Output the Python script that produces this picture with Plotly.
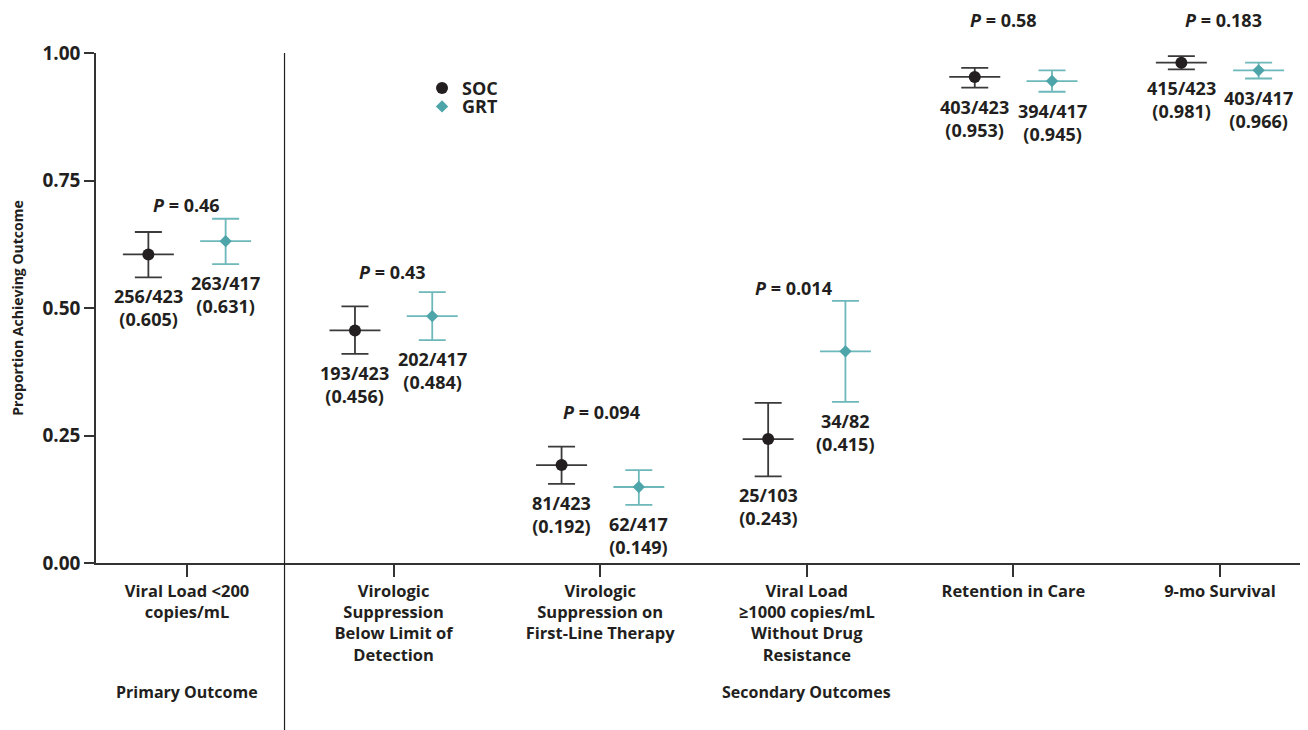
import plotly.graph_objects as go

# ---------------- data ----------------
categories = [
    "Viral Load <200<br>copies/mL",
    "Virologic<br>Suppression<br>Below Limit of<br>Detection",
    "Virologic<br>Suppression on<br>First-Line Therapy",
    "Viral Load<br>≥1000 copies/mL<br>Without Drug<br>Resistance",
    "Retention in Care",
    "9-mo Survival",
]
soc_n = [256, 193, 81, 25, 403, 415]
soc_d = [423, 423, 423, 103, 423, 423]
soc_p = [0.605, 0.456, 0.192, 0.243, 0.953, 0.981]
soc_lo = [0.560, 0.410, 0.155, 0.170, 0.932, 0.968]
soc_hi = [0.649, 0.503, 0.228, 0.314, 0.971, 0.994]

grt_n = [263, 202, 62, 34, 394, 403]
grt_d = [417, 417, 417, 82, 417, 417]
grt_p = [0.631, 0.484, 0.149, 0.415, 0.945, 0.966]
grt_lo = [0.586, 0.437, 0.114, 0.316, 0.924, 0.950]
grt_hi = [0.675, 0.531, 0.182, 0.514, 0.966, 0.981]

p_values = ["0.46", "0.43", "0.094", "0.014", "0.58", "0.183"]

y_ticks = [0, 0.25, 0.5, 0.75, 1.0]
y_title = "Proportion Achieving Outcome"
group_labels = ["Primary Outcome", "Secondary Outcomes"]

# ---------------- style ----------------
FONT = "Open Sans"
TXT = "#231f20"
SOC_COL = "#231f20"
SOC_BAR = "#3a3a3a"
GRT_COL = "#4ea5a9"
GRT_BAR = "#6db8bb"
OFF = 0.187          # horizontal offset of each group from category centre
CROSS = 0.1234       # half length of horizontal crossbar (category units)
p_yshift = [14, 20, 35, 13, 48, 36]
p_xshift = [-1, -1, 1, -13, -10, 4]

idx = list(range(len(categories)))
soc_x = [i - OFF for i in idx]
grt_x = [i + OFF for i in idx]

fig = go.Figure()


def add_series(name, legend, xs, p, lo, hi, col, barcol, symbol, size):
    fig.add_trace(go.Scatter(
        x=xs, y=p, name=name, mode="markers", legend=legend,
        marker=dict(symbol=symbol, size=size, color=col, line=dict(width=0)),
        error_y=dict(type="data", symmetric=False,
                     array=[h - v for h, v in zip(hi, p)],
                     arrayminus=[v - l for v, l in zip(p, lo)],
                     color=barcol, thickness=1.8, width=13.5),
        error_x=dict(type="constant", value=CROSS, color=barcol,
                     thickness=1.8, width=0),
        cliponaxis=False,
    ))


add_series("SOC", "legend", soc_x, soc_p, soc_lo, soc_hi, SOC_COL, SOC_BAR, "circle", 12)
add_series("GRT", "legend2", grt_x, grt_p, grt_lo, grt_hi, GRT_COL, GRT_BAR, "diamond", 9.5)

ann = []
lab_font = dict(family=FONT, size=18, color=TXT, weight="bold")
for i in idx:
    ann.append(dict(x=soc_x[i], y=soc_lo[i], xref="x", yref="y",
                    text=f"{soc_n[i]}/{soc_d[i]}<br>({soc_p[i]:.3f})",
                    showarrow=False, yanchor="top", yshift=-5, font=lab_font))
    ann.append(dict(x=grt_x[i], y=grt_lo[i], xref="x", yref="y",
                    text=f"{grt_n[i]}/{grt_d[i]}<br>({grt_p[i]:.3f})",
                    showarrow=False, yanchor="top", yshift=-5, font=lab_font))
    ann.append(dict(x=i, y=max(soc_hi[i], grt_hi[i]), xref="x", yref="y",
                    text=f"<i>P</i> = {p_values[i]}", showarrow=False,
                    yanchor="middle", yshift=p_yshift[i], xshift=p_xshift[i],
                    borderpad=0, font=lab_font))

grp_font = dict(family=FONT, size=16, color=TXT, weight="bold")
ann.append(dict(x=0, y=-0.253, xref="x", yref="paper", text=group_labels[0],
                showarrow=False, yanchor="middle", font=grp_font))
ann.append(dict(x=(1 + 5) / 2, y=-0.253, xref="x", yref="paper",
                text=group_labels[1], showarrow=False, yanchor="middle",
                font=grp_font))

leg_common = dict(xanchor="left", yanchor="top",
                  font=dict(family=FONT, size=18, color=TXT, weight="bold"),
                  itemwidth=30, bgcolor="rgba(0,0,0,0)")

# the page body adds an 8px offset, so the figure is 8px smaller than the window
fig.update_layout(
    width=1300, height=722,
    margin=dict(l=88, r=0, t=45, b=167, autoexpand=False),
    paper_bgcolor="white", plot_bgcolor="white",
    font=dict(family=FONT, color=TXT),
    annotations=ann,
    shapes=[dict(type="line", xref="x", yref="paper", x0=0.472, x1=0.472,
                 y0=-0.33, y1=1.0, line=dict(color=TXT, width=1.2))],
    legend=dict(x=0.269, y=0.967, **leg_common),
    legend2=dict(x=0.269, y=0.931, **leg_common),
    showlegend=True,
)
fig.update_xaxes(
    range=[-0.4405, 5.426], tickvals=idx, ticktext=categories,
    showline=True, linecolor="#333333", linewidth=1.5,
    ticks="outside", ticklen=12, tickwidth=1.5, tickcolor="#333333",
    tickfont=dict(family=FONT, size=16.5, color=TXT, weight="bold"),
    showgrid=False, zeroline=False, automargin=False,
)
fig.update_yaxes(
    range=[0, 1.0], tickvals=y_ticks, tickformat=".2f",
    showline=True, linecolor="#333333", linewidth=1.5,
    ticks="outside", ticklen=10, tickwidth=1.5, tickcolor="#333333",
    tickfont=dict(family=FONT, size=19, color=TXT, weight="bold"),
    showgrid=False, zeroline=False, automargin=False,
    title=dict(text=y_title, standoff=25,
               font=dict(family=FONT, size=14, color=TXT, weight="bold")),
)

fig.write_html("out.html")
